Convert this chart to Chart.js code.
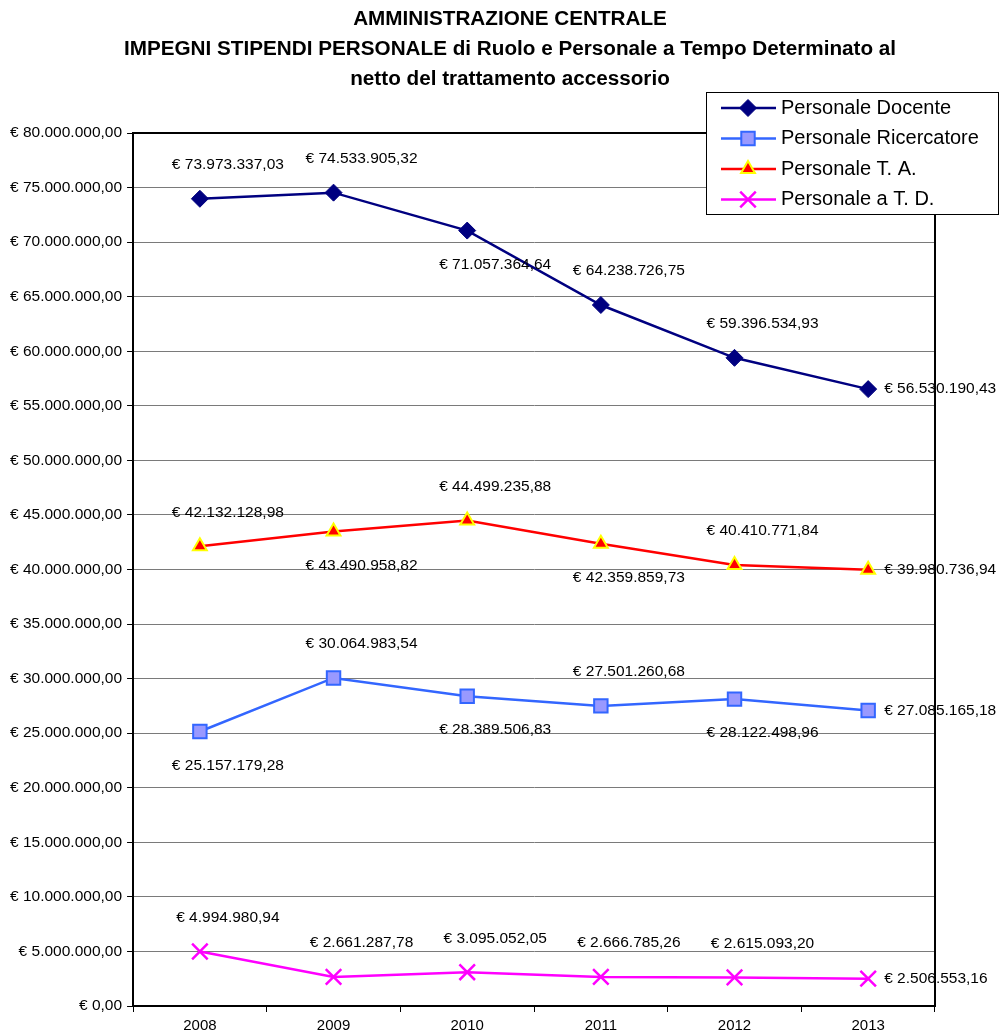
<!DOCTYPE html>
<html>
<head>
<meta charset="utf-8">
<script src="https://cdn.jsdelivr.net/npm/chart.js@4/dist/chart.umd.min.js"></script>
<style>
  body { margin: 0; background: #fff; }
  #wrap { width: 1000px; height: 1035px; }
</style>
</head>
<body>
<div id="wrap"><canvas id="stipendiChart" width="1000" height="1035"></canvas></div>
<script>
// anni
const years = ['2008', '2009', '2010', '2011', '2012', '2013'];

// impegni per categoria (euro)
const docente = [73973337.03, 74533905.32, 71057364.64, 64238726.75, 59396534.93, 56530190.43];
const ricercatore = [25157179.28, 30064983.54, 28389506.83, 27501260.68, 28122498.96, 27085165.18];
const tecnicoAmm = [42132128.98, 43490958.82, 44499235.88, 42359859.73, 40410771.84, 39980736.94];
const tempoDet = [4994980.94, 2661287.78, 3095052.05, 2666785.26, 2615093.20, 2506553.16];

const seriesNames = ['Personale Docente', 'Personale Ricercatore', 'Personale T. A.', 'Personale a T. D.'];

const titleLines = [
  'AMMINISTRAZIONE CENTRALE',
  'IMPEGNI STIPENDI PERSONALE di Ruolo e Personale a Tempo Determinato al',
  'netto del trattamento accessorio'
];

// dove mettere l'etichetta di ogni punto
const labelPlacement = [
  ['above', 'above', 'below', 'above', 'above', 'right'],
  ['below', 'above', 'below', 'above', 'below', 'right'],
  ['above', 'below', 'above', 'below', 'above', 'right'],
  ['above', 'above', 'above', 'above', 'above', 'right']
];

const FONT = '"Liberation Sans", Arial, sans-serif';

function euro(v) {
  const parts = Number(v).toFixed(2).split('.');
  return '€ ' + parts[0].replace(/\B(?=(\d{3})+(?!\d))/g, '.') + ',' + parts[1];
}

// titolo su tre righe, centrato sulla pagina
const pageTitle = {
  id: 'pageTitle',
  afterDraw(chart) {
    const ctx = chart.ctx;
    ctx.save();
    ctx.fillStyle = '#000';
    ctx.font = 'bold 20.7px ' + FONT;
    ctx.textAlign = 'center';
    ctx.textBaseline = 'middle';
    titleLines.forEach(function (line, i) {
      ctx.fillText(line, 510, 19 + i * 30);
    });
    ctx.restore();
  }
};

// etichette dei valori accanto ai punti
const valueLabels = {
  id: 'valueLabels',
  afterDatasetsDraw(chart) {
    const ctx = chart.ctx;
    ctx.save();
    ctx.font = '15.5px ' + FONT;
    ctx.fillStyle = '#000';
    ctx.textBaseline = 'middle';
    chart.data.datasets.forEach(function (ds, i) {
      chart.getDatasetMeta(i).data.forEach(function (pt, j) {
        const where = labelPlacement[i][j];
        const txt = euro(ds.data[j]);
        if (where === 'right') {
          ctx.textAlign = 'left';
          ctx.fillText(txt, pt.x + 16, pt.y);
        } else {
          ctx.textAlign = 'center';
          ctx.fillText(txt, pt.x + 28, pt.y + (where === 'above' ? -34 : 34));
        }
      });
    });
    ctx.restore();
  }
};

// bordo superiore e destro dell'area del grafico
const plotFrame = {
  id: 'plotFrame',
  beforeDatasetsDraw(chart) {
    const a = chart.chartArea;
    const ctx = chart.ctx;
    ctx.save();
    ctx.strokeStyle = '#000';
    ctx.lineWidth = 2;
    ctx.beginPath();
    ctx.moveTo(a.left, a.top);
    ctx.lineTo(a.right, a.top);
    ctx.lineTo(a.right, a.bottom);
    ctx.stroke();
    ctx.restore();
  }
};

// legenda in riquadro, sovrapposta all'angolo in alto a destra
const boxLegend = {
  id: 'boxLegend',
  afterDraw(chart) {
    const ctx = chart.ctx;
    const x0 = 706, y0 = 92, w = 292, h = 122;
    ctx.save();
    ctx.fillStyle = '#fff';
    ctx.fillRect(x0, y0, w, h);
    ctx.strokeStyle = '#000';
    ctx.lineWidth = 1;
    ctx.strokeRect(x0 + 0.5, y0 + 0.5, w, h);
    chart.data.datasets.forEach(function (ds, i) {
      const y = y0 + 16 + i * 30.5;
      ctx.strokeStyle = ds.borderColor;
      ctx.lineWidth = ds.borderWidth;
      ctx.beginPath();
      ctx.moveTo(721, y);
      ctx.lineTo(776, y);
      ctx.stroke();
      ctx.fillStyle = ds.pointBackgroundColor;
      ctx.strokeStyle = ds.pointBorderColor;
      ctx.lineWidth = ds.pointBorderWidth;
      Chart.helpers.drawPoint(ctx, {
        pointStyle: ds.pointStyle,
        radius: ds.pointRadius,
        rotation: 0,
        borderWidth: ds.pointBorderWidth
      }, 748, y);
      ctx.fillStyle = '#000';
      ctx.font = '20px ' + FONT;
      ctx.textAlign = 'left';
      ctx.textBaseline = 'middle';
      ctx.fillText(ds.label, 781, y);
    });
    ctx.restore();
  }
};

const ctx = document.getElementById('stipendiChart').getContext('2d');

new Chart(ctx, {
  type: 'line',
  data: {
    labels: years,
    datasets: [{
      label: seriesNames[0],
      data: docente,
      borderColor: '#000080',
      borderWidth: 2.5,
      pointStyle: 'rectRot',
      pointRadius: 8.5,
      pointBackgroundColor: '#000080',
      pointBorderColor: '#000080',
      pointBorderWidth: 1
    }, {
      label: seriesNames[1],
      data: ricercatore,
      borderColor: '#3366FF',
      borderWidth: 2.5,
      pointStyle: 'rect',
      pointRadius: 9.5,
      pointBackgroundColor: '#9999FF',
      pointBorderColor: '#3366FF',
      pointBorderWidth: 2
    }, {
      label: seriesNames[2],
      data: tecnicoAmm,
      borderColor: '#FF0000',
      borderWidth: 2.5,
      pointStyle: 'triangle',
      pointRadius: 8,
      pointBackgroundColor: '#FF0000',
      pointBorderColor: '#FFFF00',
      pointBorderWidth: 2
    }, {
      label: seriesNames[3],
      data: tempoDet,
      borderColor: '#FF00FF',
      borderWidth: 2.5,
      pointStyle: 'crossRot',
      pointRadius: 11,
      pointBackgroundColor: '#FF00FF',
      pointBorderColor: '#FF00FF',
      pointBorderWidth: 2.5
    }]
  },
  options: {
    responsive: false,
    animation: false,
    layout: {
      padding: { left: 5, right: 65, top: 133, bottom: -5 }
    },
    scales: {
      x: {
        offset: true,
        grid: {
          offset: true,
          drawOnChartArea: false,
          drawTicks: true,
          tickLength: 6,
          tickColor: '#000',
          tickWidth: 1
        },
        border: { color: '#000', width: 2 },
        ticks: {
          color: '#000',
          font: { family: FONT, size: 15 },
          padding: 5
        }
      },
      y: {
        min: 0,
        max: 80000000,
        grid: {
          color: '#7a7a7a',
          lineWidth: 1,
          drawTicks: true,
          tickLength: 6,
          tickColor: '#000'
        },
        border: { color: '#000', width: 2 },
        ticks: {
          stepSize: 5000000,
          color: '#000',
          font: { family: FONT, size: 15.5 },
          padding: 5,
          callback: function (value) {
            return euro(value);
          }
        }
      }
    },
    plugins: {
      legend: { display: false },
      tooltip: { enabled: false },
      title: { display: false }
    }
  },
  plugins: [plotFrame, valueLabels, boxLegend, pageTitle]
});
</script>
</body>
</html>
